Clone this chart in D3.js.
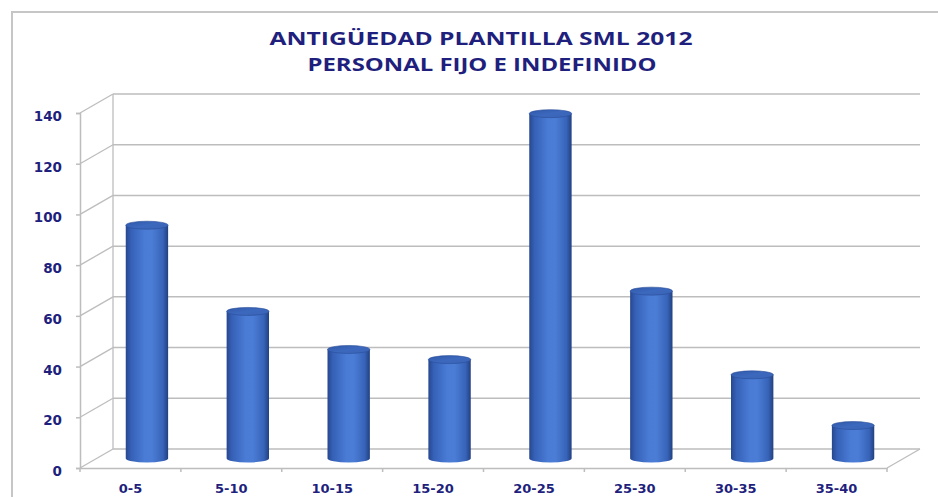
<!DOCTYPE html>
<html>
<head>
<meta charset="utf-8">
<script src="https://cdn.jsdelivr.net/npm/d3@7"></script>
<style>
  html, body { margin: 0; padding: 0; background: #fff; }
  svg { display: block; }
</style>
</head>
<body>
<svg id="chart" width="938" height="497"></svg>
<script>
const titleLines = ["ANTIGÜEDAD PLANTILLA SML 2012", "PERSONAL FIJO E INDEFINIDO"];
const categories = ["0-5", "5-10", "10-15", "15-20", "20-25", "25-30", "30-35", "35-40"];
const values = [92, 58, 43, 39, 136, 66, 33, 13];
const yTicks = [0, 20, 40, 60, 80, 100, 120, 140];

const svg = d3.select("#chart");

// outer chart-area border (only top/left visible)
svg.append("rect").attr("x", 12).attr("y", 12).attr("width", 960).attr("height", 520)
  .attr("fill", "none").attr("stroke", "#c6c6c6").attr("stroke-width", 2);

// geometry
const x0 = 80, x1 = 887, yBase = 468, yTop = 113;
const dx = 33, dy = -19;   // depth offset (front -> back)
const x = d3.scaleBand().domain(categories).range([x0, x1]).padding(0);
const y = d3.scaleLinear().domain([0, 140]).range([yBase, yTop]);
const navy = "#1f1f7d";
const grid = "#bdbdbd";

// title
const title = svg.append("g");
title.append("text").attr("x", 481).attr("y", 45).attr("text-anchor", "middle")
  .attr("font-family", "'Open Sans', sans-serif").attr("font-weight", 700).attr("font-size", 17.5)
  .attr("fill", navy).attr("textLength", 423).attr("lengthAdjust", "spacingAndGlyphs")
  .text(titleLines[0]);
title.append("text").attr("x", 482).attr("y", 71).attr("text-anchor", "middle")
  .attr("font-family", "'Open Sans', sans-serif").attr("font-weight", 700).attr("font-size", 17.5)
  .attr("fill", navy).attr("textLength", 349).attr("lengthAdjust", "spacingAndGlyphs")
  .text(titleLines[1]);

// walls / gridlines
const g = svg.append("g");
yTicks.forEach(t => {
  const yy = y(t);
  g.append("line").attr("x1", x0 + dx).attr("x2", x1 + dx).attr("y1", yy + dy).attr("y2", yy + dy)
    .attr("stroke", grid).attr("stroke-width", 1.5);
  g.append("line").attr("x1", x0).attr("x2", x0 + dx).attr("y1", yy).attr("y2", yy + dy)
    .attr("stroke", grid).attr("stroke-width", 1.3);
});
g.append("line").attr("x1", x0 + dx).attr("x2", x0 + dx).attr("y1", y(0) + dy).attr("y2", y(140) + dy)
  .attr("stroke", grid).attr("stroke-width", 1.3);
g.append("line").attr("x1", x1).attr("x2", x1 + dx).attr("y1", yBase).attr("y2", yBase + dy)
  .attr("stroke", grid).attr("stroke-width", 1.3);

// y axis (front)
const yAxis = d3.axisLeft(y).tickValues(yTicks).tickSize(4).tickPadding(14);
const ya = svg.append("g").attr("transform", `translate(${x0},0)`).call(yAxis);
ya.select(".domain").attr("stroke", grid).attr("stroke-width", 1.5);
ya.selectAll(".tick line").attr("stroke", grid).attr("stroke-width", 1.5);
ya.selectAll(".tick text").attr("font-family", "'DejaVu Sans', sans-serif").attr("font-weight", 700)
  .attr("font-size", 13.5).attr("fill", navy).attr("dy", "0.55em");

// x axis (front floor edge)
const xAxis = d3.axisBottom(x).tickSize(0).tickPadding(16);
const xa = svg.append("g").attr("transform", `translate(0,${yBase})`).call(xAxis);
xa.select(".domain").attr("stroke", grid).attr("stroke-width", 1.5);
xa.selectAll(".tick text").attr("font-family", "'DejaVu Sans', sans-serif").attr("font-weight", 700)
  .attr("font-size", 13).attr("fill", navy);
const sepTicks = categories.map(c => x(c)).concat([x1]);
xa.selectAll(".sep").data(sepTicks).join("line").attr("class", "sep")
  .attr("x1", d => d).attr("x2", d => d).attr("y1", 0).attr("y2", 4)
  .attr("stroke", grid).attr("stroke-width", 1.5);

// gradients for cylinders
const defs = svg.append("defs");
const bodyGrad = defs.append("linearGradient").attr("id", "body").attr("x1", "0").attr("x2", "1").attr("y1", "0").attr("y2", "0");
[[0, "#27478e"], [0.12, "#3560b6"], [0.45, "#4a7cd6"], [0.62, "#4b7dd6"], [0.88, "#3763b8"], [1, "#22407f"]]
  .forEach(([o, c]) => bodyGrad.append("stop").attr("offset", o).attr("stop-color", c));
const topGrad = defs.append("linearGradient").attr("id", "topg").attr("x1", "0").attr("x2", "1").attr("y1", "0").attr("y2", "1");
[[0, "#2f58a8"], [0.5, "#3c68bd"], [1, "#3a64b6"]]
  .forEach(([o, c]) => topGrad.append("stop").attr("offset", o).attr("stop-color", c));

// cylinders at mid-depth
const bw = x.bandwidth() * 0.42;
const rx = bw / 2, ry = 4;
const bars = svg.append("g").selectAll("g").data(categories.map((c, i) => ({ c, v: values[i] }))).join("g");
bars.each(function (d) {
  const gg = d3.select(this);
  const cx = x(d.c) + x.bandwidth() / 2 + dx / 2;
  const yb = y(0) + dy / 2;
  const yt = y(d.v) + dy / 2;
  gg.append("path")
    .attr("d", `M${cx - rx},${yt} L${cx - rx},${yb} A${rx},${ry} 0 0 0 ${cx + rx},${yb} L${cx + rx},${yt} Z`)
    .attr("fill", "url(#body)");
  gg.append("ellipse").attr("cx", cx).attr("cy", yt).attr("rx", rx).attr("ry", ry)
    .attr("fill", "url(#topg)").attr("stroke", "#2a4e98").attr("stroke-width", 0.6);
});
</script>
</body>
</html>
